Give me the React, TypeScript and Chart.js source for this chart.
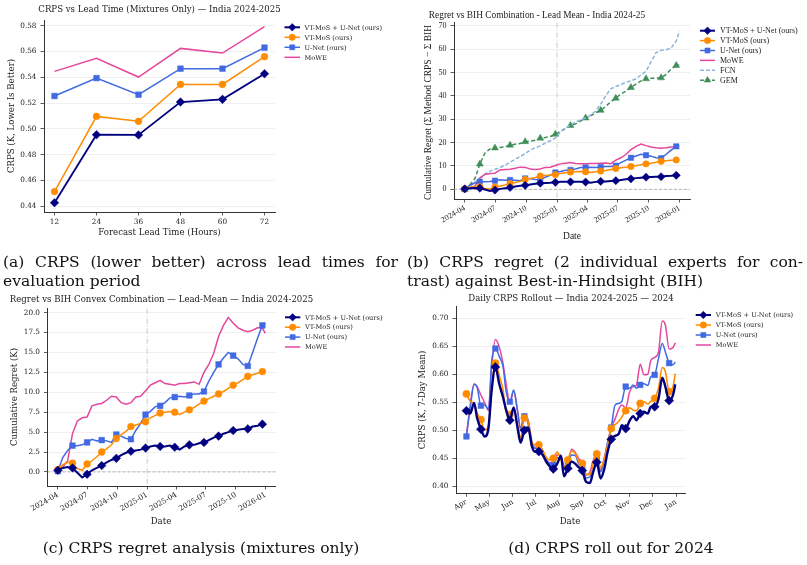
import React, { useEffect, useRef } from 'react';
import { Chart, registerables } from 'chart.js';

Chart.register(...registerables);

const W = 807;
const H = 565;

// ---------- (a) CRPS vs lead time ----------
const LEAD_HOURS = [12, 24, 36, 48, 60, 72];
const LEAD_VTMOS_UNET = [0.4428, 0.4955, 0.4953, 0.5208, 0.5229, 0.5428];
const LEAD_VTMOS = [0.4514, 0.5097, 0.5059, 0.5345, 0.5345, 0.556];
const LEAD_UNET = [0.5255, 0.5394, 0.5265, 0.5467, 0.5467, 0.563];
const LEAD_MOWE = [0.5446, 0.5547, 0.5402, 0.5624, 0.5588, 0.5792];
const LEAD_Y_TICKS = [0.44, 0.46, 0.48, 0.5, 0.52, 0.54, 0.56, 0.58];

// ---------- (b)/(c) cumulative regret, days since 2024-04-01 ----------
const REGRET_DAYS = [0, 15, 30, 45, 60, 75, 90, 105, 120, 135, 150, 165, 180, 195, 210, 225, 240, 255, 270, 285, 300, 315, 330, 345, 360, 375, 390, 405, 420, 435, 450, 465, 480, 495, 510, 525, 540, 555, 570, 585, 600, 615, 630, 639];
const REG_VTMOS_UNET = [0.2, 0.5, 0.6, 0.5, -0.1, -0.7, -0.3, 0.2, 0.5, 0.8, 1.2, 1.5, 1.7, 2.1, 2.4, 2.6, 2.7, 2.8, 3.0, 3.2, 3.3, 3.2, 3.2, 3.3, 3.1, 2.8, 3.2, 3.4, 3.4, 3.6, 3.7, 4.0, 4.3, 4.5, 4.8, 5.0, 5.2, 5.3, 5.4, 5.4, 5.7, 5.8, 6.0, 5.9];
const REG_VTMOS = [0.3, 0.9, 1.2, 1.1, 0.4, 0.2, 1.0, 1.4, 1.9, 2.5, 2.9, 3.4, 4.2, 4.7, 5.1, 5.7, 5.9, 6.1, 6.3, 6.8, 7.1, 7.4, 7.5, 7.6, 7.5, 7.2, 7.5, 7.8, 8.1, 8.5, 8.9, 9.2, 9.5, 9.8, 10.1, 10.5, 10.9, 11.2, 11.6, 12.0, 12.2, 12.4, 12.6, 12.8];
const REG_UNET = [0.1, 1.8, 2.7, 3.3, 3.3, 3.4, 3.7, 4.1, 3.9, 4.0, 3.9, 3.7, 4.7, 4.5, 4.2, 4.1, 5.2, 6.1, 7.2, 7.6, 8.2, 8.3, 8.7, 9.3, 9.4, 9.5, 9.4, 9.6, 9.8, 9.8, 10.1, 11.4, 12.5, 13.5, 14.3, 15.0, 14.6, 14.2, 13.5, 13.3, 15.0, 16.8, 18.4, 18.7];
const REG_MOWE = [0.2, 0.6, 1.4, 4.8, 6.4, 6.8, 6.9, 8.3, 8.5, 8.6, 9.0, 9.5, 9.4, 8.7, 8.5, 8.7, 9.4, 9.5, 10.2, 10.9, 11.2, 11.5, 11.1, 11.0, 10.9, 11.1, 11.1, 11.2, 11.3, 11.0, 12.5, 13.5, 14.9, 17.0, 18.4, 19.4, 18.7, 18.1, 17.8, 17.6, 17.8, 18.1, 18.1, 17.4];
const REG_FCN = [0.0, 1.2, 3.0, 4.8, 6.5, 7.8, 8.6, 9.3, 10.4, 11.6, 12.8, 14.0, 15.3, 16.8, 17.8, 18.6, 19.8, 20.8, 22.0, 24.5, 26.2, 27.5, 28.8, 29.7, 30.5, 31.8, 33.5, 36.5, 40.0, 43.0, 44.0, 44.8, 45.8, 46.4, 47.3, 49.0, 50.5, 54.5, 58.5, 59.5, 59.7, 60.5, 63.5, 67.5];
const REG_GEM = [0.0, 2.0, 4.5, 10.8, 15.5, 17.3, 17.7, 17.9, 18.2, 18.9, 19.3, 19.6, 20.4, 20.6, 21.0, 21.9, 22.2, 22.6, 23.6, 24.8, 26.0, 27.3, 28.0, 29.2, 30.5, 31.5, 32.8, 33.8, 35.5, 37.5, 39.0, 40.8, 42.0, 43.6, 45.0, 46.4, 47.3, 47.5, 47.6, 47.7, 49.2, 51.5, 53.0, 53.2];
const REGRET_TICK_DAYS = [0, 91, 183, 275, 365, 456, 548, 640];
const REGRET_TICK_LABELS = ['2024-04', '2024-07', '2024-10', '2025-01', '2025-04', '2025-07', '2025-10', '2026-01'];
const REGRET_B_Y_TICKS = [0, 10, 20, 30, 40, 50, 60, 70];
const REGRET_C_Y_TICKS = [0, 2.5, 5, 7.5, 10, 12.5, 15, 17.5, 20];
const SPLIT_DAY = 275;

// ---------- (d) daily CRPS rollout, days since 2024-04-01 ----------
const ROLL_DAYS = [0, 5, 10, 14, 19, 24, 29, 33, 38, 43, 48, 52, 57, 62, 67, 71, 76, 81, 86, 90, 95, 100, 105, 109, 114, 119, 124, 128, 133, 138, 143, 147, 152, 157, 162, 166, 171, 176, 181, 185, 190, 195, 200, 204, 209, 214, 219, 223, 228, 233, 238, 242, 247, 252, 257, 261, 266, 271, 274];
const ROLL_VTMOS_UNET = [0.535, 0.530, 0.549, 0.522, 0.502, 0.489, 0.505, 0.570, 0.613, 0.583, 0.559, 0.537, 0.518, 0.541, 0.505, 0.478, 0.500, 0.505, 0.471, 0.462, 0.462, 0.456, 0.443, 0.436, 0.431, 0.440, 0.454, 0.418, 0.432, 0.444, 0.440, 0.434, 0.428, 0.408, 0.406, 0.424, 0.443, 0.414, 0.432, 0.460, 0.484, 0.490, 0.494, 0.509, 0.503, 0.517, 0.525, 0.518, 0.530, 0.533, 0.530, 0.542, 0.542, 0.556, 0.594, 0.578, 0.553, 0.563, 0.582];
const ROLL_VTMOS = [0.565, 0.552, 0.548, 0.531, 0.519, 0.500, 0.510, 0.575, 0.620, 0.598, 0.572, 0.532, 0.528, 0.540, 0.510, 0.486, 0.522, 0.516, 0.478, 0.474, 0.474, 0.464, 0.451, 0.447, 0.450, 0.461, 0.448, 0.434, 0.447, 0.463, 0.458, 0.446, 0.441, 0.422, 0.421, 0.440, 0.458, 0.433, 0.450, 0.472, 0.503, 0.510, 0.516, 0.524, 0.535, 0.540, 0.536, 0.535, 0.548, 0.551, 0.547, 0.552, 0.557, 0.575, 0.612, 0.605, 0.569, 0.578, 0.601];
const ROLL_UNET = [0.489, 0.540, 0.582, 0.577, 0.544, 0.545, 0.538, 0.622, 0.646, 0.632, 0.614, 0.570, 0.551, 0.572, 0.535, 0.504, 0.525, 0.518, 0.480, 0.468, 0.468, 0.461, 0.448, 0.440, 0.438, 0.451, 0.452, 0.436, 0.440, 0.456, 0.455, 0.441, 0.433, 0.415, 0.417, 0.440, 0.452, 0.426, 0.448, 0.478, 0.505, 0.545, 0.548, 0.552, 0.578, 0.575, 0.581, 0.575, 0.581, 0.583, 0.580, 0.596, 0.599, 0.628, 0.655, 0.640, 0.620, 0.617, 0.622];
const ROLL_MOWE = [0.492, 0.545, 0.583, 0.578, 0.563, 0.549, 0.535, 0.611, 0.662, 0.649, 0.619, 0.583, 0.549, 0.570, 0.535, 0.501, 0.530, 0.510, 0.470, 0.468, 0.471, 0.464, 0.446, 0.442, 0.441, 0.456, 0.456, 0.432, 0.440, 0.466, 0.460, 0.450, 0.442, 0.420, 0.425, 0.445, 0.455, 0.428, 0.452, 0.475, 0.505, 0.520, 0.538, 0.545, 0.540, 0.568, 0.578, 0.580, 0.618, 0.599, 0.600, 0.625, 0.630, 0.640, 0.695, 0.688, 0.645, 0.648, 0.656];
const ROLL_TICK_DAYS = [0, 30, 61, 91, 122, 153, 183, 214, 244, 275];
const ROLL_TICK_LABELS = ['Apr', 'May', 'Jun', 'Jul', 'Aug', 'Sep', 'Oct', 'Nov', 'Dec', 'Jan'];
const ROLL_Y_TICKS = [0.4, 0.45, 0.5, 0.55, 0.6, 0.65, 0.7];

// ---------- styles ----------
const NAVY = '#000080';
const ORANGE = '#ff8c00';
const BLUE = '#4169e1';
const PINK = '#e4479c';
const FCN_C = '#8cb6de';
const GEM_C = '#3e8e58';
const DEJAVU = "'DejaVu Serif', serif";
const TIMES = "'Liberation Serif', 'Times New Roman', serif";
const TXT = '#222222';
const AX = '#333333';

type LegendItem = { label: string; color: string; marker?: string; dash?: number[]; lw: number; r?: number };

function drawMarker(ctx: CanvasRenderingContext2D, style: string, x: number, y: number, r: number, color: string) {
  ctx.save();
  ctx.fillStyle = color;
  ctx.strokeStyle = color;
  ctx.lineWidth = 0.5;
  ctx.setLineDash([]);
  ctx.beginPath();
  if (style === 'circle') ctx.arc(x, y, r, 0, Math.PI * 2);
  else if (style === 'rect') {
    const s = r * Math.SQRT1_2;
    ctx.rect(x - s, y - s, 2 * s, 2 * s);
  } else if (style === 'rectRot') {
    ctx.moveTo(x, y - r);
    ctx.lineTo(x + r, y);
    ctx.lineTo(x, y + r);
    ctx.lineTo(x - r, y);
    ctx.closePath();
  } else if (style === 'triangle') {
    ctx.moveTo(x, y - r);
    ctx.lineTo(x + r * 0.866, y + r * 0.5);
    ctx.lineTo(x - r * 0.866, y + r * 0.5);
    ctx.closePath();
  }
  ctx.fill();
  ctx.stroke();
  ctx.restore();
}

type Deco = {
  font: string;
  title: { text: string; x: number; y: number; size: number };
  xlabel: { text: string; x: number; y: number; size: number };
  ylabel: { text: string; x: number; y: number; size: number };
  legend: { x0: number; len: number; tx: number; y0: number; dy: number; size: number; items: LegendItem[] };
  vline?: number;
  hline?: number;
};

function makeDeco(d: Deco) {
  return {
    id: 'deco',
    beforeDatasetsDraw(chart: any) {
      const { ctx, chartArea: ca, scales } = chart;
      ctx.save();
      if (d.vline !== undefined) {
        const x = scales.x.getPixelForValue(d.vline);
        ctx.strokeStyle = '#c4c4c4';
        ctx.lineWidth = 0.9;
        ctx.setLineDash([5, 2, 1, 2]);
        ctx.beginPath();
        ctx.moveTo(x, ca.top);
        ctx.lineTo(x, ca.bottom);
        ctx.stroke();
      }
      if (d.hline !== undefined) {
        const y = scales.y.getPixelForValue(d.hline);
        ctx.strokeStyle = '#a8a8a8';
        ctx.lineWidth = 0.8;
        ctx.setLineDash([3, 2]);
        ctx.beginPath();
        ctx.moveTo(ca.left, y);
        ctx.lineTo(ca.right, y);
        ctx.stroke();
      }
      ctx.restore();
    },
    afterDraw(chart: any) {
      const ctx: CanvasRenderingContext2D = chart.ctx;
      ctx.save();
      ctx.fillStyle = TXT;
      ctx.textAlign = 'center';
      ctx.textBaseline = 'middle';
      ctx.font = `${d.title.size}px ${d.font}`;
      ctx.fillText(d.title.text, d.title.x, d.title.y);
      ctx.font = `${d.xlabel.size}px ${d.font}`;
      ctx.fillText(d.xlabel.text, d.xlabel.x, d.xlabel.y);
      ctx.save();
      ctx.translate(d.ylabel.x, d.ylabel.y);
      ctx.rotate(-Math.PI / 2);
      ctx.font = `${d.ylabel.size}px ${d.font}`;
      ctx.fillText(d.ylabel.text, 0, 0);
      ctx.restore();
      const L = d.legend;
      L.items.forEach((it, i) => {
        const y = L.y0 + i * L.dy;
        ctx.save();
        ctx.strokeStyle = it.color;
        ctx.lineWidth = it.lw;
        ctx.setLineDash(it.dash || []);
        ctx.beginPath();
        ctx.moveTo(L.x0, y);
        ctx.lineTo(L.x0 + L.len, y);
        ctx.stroke();
        ctx.restore();
        if (it.marker) drawMarker(ctx, it.marker, L.x0 + L.len / 2, y, it.r || 3.5, it.color);
        ctx.fillStyle = TXT;
        ctx.textAlign = 'left';
        ctx.font = `${L.size}px ${d.font}`;
        ctx.fillText(it.label, L.tx, y + 0.5);
      });
      ctx.restore();
    },
  };
}

type AxisSpec = {
  min: number;
  max: number;
  ticks: number[];
  label: (v: number) => string;
  size: number;
  font: string;
  fontSize: number;
  rotation?: number;
  pad: number;
};

function xAxis(a: AxisSpec) {
  return {
    type: 'linear',
    position: 'bottom',
    min: a.min,
    max: a.max,
    afterBuildTicks: (s: any) => {
      s.ticks = a.ticks.map((v) => ({ value: v }));
    },
    afterFit: (s: any) => {
      s.height = a.size;
    },
    ticks: {
      autoSkip: false,
      minRotation: a.rotation || 0,
      maxRotation: a.rotation || 0,
      padding: a.pad,
      color: TXT,
      font: { family: a.font, size: a.fontSize },
      callback: (v: number) => a.label(v),
    },
    grid: { drawOnChartArea: false, drawTicks: true, tickLength: 3.5, tickColor: AX, tickWidth: 0.8, color: AX, lineWidth: 0.8 },
    border: { display: true, color: AX, width: 1 },
  };
}

function yAxis(a: AxisSpec) {
  return {
    type: 'linear',
    position: 'left',
    min: a.min,
    max: a.max,
    afterBuildTicks: (s: any) => {
      s.ticks = a.ticks.map((v) => ({ value: v }));
    },
    afterFit: (s: any) => {
      s.width = a.size;
    },
    ticks: {
      padding: a.pad,
      color: TXT,
      font: { family: a.font, size: a.fontSize },
      callback: (v: number) => a.label(v),
    },
    grid: { drawOnChartArea: true, color: '#ebebeb', lineWidth: 0.8, drawTicks: true, tickLength: 3.5, tickColor: AX, tickWidth: 0.8 },
    border: { display: true, color: AX, width: 1 },
  };
}

function pts(xs: number[], ys: number[]) {
  return xs.map((x, i) => ({ x, y: ys[i] }));
}

function series(label: string, xs: number[], ys: number[], color: string, opt: any) {
  return {
    label,
    data: pts(xs, ys),
    borderColor: color,
    backgroundColor: color,
    pointBackgroundColor: color,
    pointBorderColor: color,
    pointBorderWidth: 0.5,
    fill: false,
    ...opt,
  };
}

function build(canvas: HTMLCanvasElement, box: { top: number; right: number }, x: any, y: any, datasets: any[], deco: Deco, smooth: boolean) {
  return new Chart(canvas, {
    type: 'line',
    data: { datasets },
    options: {
      responsive: false,
      animation: false,
      devicePixelRatio: 1,
      events: [],
      layout: { padding: { left: 0, top: box.top, right: W - box.right, bottom: 0 } },
      elements: { line: { tension: 0, cubicInterpolationMode: smooth ? 'monotone' : 'default' } },
      plugins: { legend: { display: false }, tooltip: { enabled: false }, title: { display: false } },
      scales: { x, y },
    } as any,
    plugins: [makeDeco(deco)],
  } as any);
}

const LEG4 = (r: number): LegendItem[] => [
  { label: 'VT-MoS + U-Net (ours)', color: NAVY, marker: 'rectRot', lw: 2, r: r + 0.6 },
  { label: 'VT-MoS (ours)', color: ORANGE, marker: 'circle', lw: 1.5, r },
  { label: 'U-Net (ours)', color: BLUE, marker: 'rect', lw: 1.5, r: r + 0.4 },
  { label: 'MoWE', color: PINK, lw: 1.5 },
];

function chartA(cv: HTMLCanvasElement) {
  const x = xAxis({ min: 9, max: 75, ticks: LEAD_HOURS, label: (v) => String(v), size: H - 212, font: DEJAVU, fontSize: 7.3, pad: 2 });
  const y = yAxis({ min: 0.4356, max: 0.5844, ticks: LEAD_Y_TICKS, label: (v) => v.toFixed(2), size: 44, font: DEJAVU, fontSize: 7.3, pad: 4 });
  const ds = [
    series('VT-MoS + U-Net (ours)', LEAD_HOURS, LEAD_VTMOS_UNET, NAVY, { borderWidth: 1.8, pointStyle: 'rectRot', pointRadius: 4.3 }),
    series('VT-MoS (ours)', LEAD_HOURS, LEAD_VTMOS, ORANGE, { borderWidth: 1.5, pointStyle: 'circle', pointRadius: 3.4 }),
    series('U-Net (ours)', LEAD_HOURS, LEAD_UNET, BLUE, { borderWidth: 1.5, pointStyle: 'rect', pointRadius: 4 }),
    series('MoWE', LEAD_HOURS, LEAD_MOWE, PINK, { borderWidth: 1.5, pointRadius: 0 }),
  ];
  return build(cv, { top: 20, right: 275 }, x, y, ds, {
    font: DEJAVU,
    title: { text: 'CRPS vs Lead Time (Mixtures Only) \u2014 India 2024-2025', x: 159.5, y: 9.5, size: 8.6 },
    xlabel: { text: 'Forecast Lead Time (Hours)', x: 159.5, y: 233, size: 8.6 },
    ylabel: { text: 'CRPS (K, Lower Is Better)', x: 12, y: 116, size: 8.6 },
    legend: { x0: 284.5, len: 15.5, tx: 304.5, y0: 27.3, dy: 10, size: 6.6, items: LEG4(3.2) },
  }, false);
}

const every3 = (r: number) => (c: any) => (c.dataIndex % 3 === 0 ? r : 0);

function regretSets(scale: number) {
  return [
    series('VT-MoS + U-Net (ours)', REGRET_DAYS, REG_VTMOS_UNET, NAVY, { borderWidth: 2, pointStyle: 'rectRot', pointRadius: every3(4.3 * scale) }),
    series('VT-MoS (ours)', REGRET_DAYS, REG_VTMOS, ORANGE, { borderWidth: 1.5, pointStyle: 'circle', pointRadius: every3(3.4 * scale) }),
    series('U-Net (ours)', REGRET_DAYS, REG_UNET, BLUE, { borderWidth: 1.5, pointStyle: 'rect', pointRadius: every3(4 * scale) }),
    series('MoWE', REGRET_DAYS, REG_MOWE, PINK, { borderWidth: 1.5, pointRadius: 0 }),
  ];
}

const dateLabel = (v: number) => REGRET_TICK_LABELS[REGRET_TICK_DAYS.indexOf(v)] || '';

function chartB(cv: HTMLCanvasElement) {
  const x = xAxis({ min: -32, max: 671, ticks: REGRET_TICK_DAYS, label: dateLabel, size: H - 199, font: TIMES, fontSize: 8, rotation: 30, pad: 1 });
  const y = yAxis({ min: -4.13, max: 71.3, ticks: REGRET_B_Y_TICKS, label: (v) => String(v), size: 454, font: TIMES, fontSize: 8, pad: 4 });
  const ds = [
    ...regretSets(0.95),
    series('FCN', REGRET_DAYS, REG_FCN, FCN_C, { borderWidth: 1.5, borderDash: [4, 2], pointRadius: 0 }),
    series('GEM', REGRET_DAYS, REG_GEM, GEM_C, { borderWidth: 1.5, borderDash: [4, 2.5], pointStyle: 'triangle', pointRadius: every3(4) }),
  ];
  return build(cv, { top: 22.7, right: 690 }, x, y, ds, {
    font: TIMES,
    title: { text: 'Regret vs BIH Combination - Lead Mean - India 2024-25', x: 537, y: 15.3, size: 9.4 },
    xlabel: { text: 'Date', x: 572, y: 236, size: 9.5 },
    ylabel: { text: 'Cumulative Regret (\u03a3 Method CRPS \u2212 \u03a3 BIH', x: 428.5, y: 112.5, size: 9.5 },
    legend: {
      x0: 700, len: 15, tx: 720, y0: 30.7, dy: 9.9, size: 8,
      items: [
        ...LEG4(3.2),
        { label: 'FCN', color: FCN_C, dash: [4, 2], lw: 1.5 },
        { label: 'GEM', color: GEM_C, dash: [4, 2], lw: 1.5, marker: 'triangle', r: 3.8 },
      ],
    },
    vline: SPLIT_DAY,
    hline: 0,
  }, false);
}

function chartC(cv: HTMLCanvasElement) {
  const x = xAxis({ min: -32, max: 671, ticks: REGRET_TICK_DAYS, label: dateLabel, size: H - 486, font: DEJAVU, fontSize: 7.3, rotation: 30, pad: 1 });
  const y = yAxis({ min: -1.77, max: 20.5, ticks: REGRET_C_Y_TICKS, label: (v) => v.toFixed(1), size: 47.5, font: DEJAVU, fontSize: 7.3, pad: 4 });
  return build(cv, { top: 308.7, right: 275.7 }, x, y, regretSets(1), {
    font: DEJAVU,
    title: { text: 'Regret vs BIH Convex Combination \u2014 Lead-Mean \u2014 India 2024-2025', x: 161.5, y: 300, size: 8.6 },
    xlabel: { text: 'Date', x: 161, y: 522, size: 8.6 },
    ylabel: { text: 'Cumulative Regret (K)', x: 14.5, y: 397, size: 8.6 },
    legend: { x0: 285, len: 15.3, tx: 305, y0: 317.3, dy: 9.9, size: 6.6, items: LEG4(3.2) },
    vline: SPLIT_DAY,
    hline: 0,
  }, false);
}

function chartD(cv: HTMLCanvasElement) {
  const mk = (r: number) => (c: any) => (ROLL_DAYS[c.dataIndex] % 19 === 0 ? r : 0);
  const x = xAxis({ min: -13.7, max: 287.7, ticks: ROLL_TICK_DAYS, label: (v) => ROLL_TICK_LABELS[ROLL_TICK_DAYS.indexOf(v)] || '', size: H - 493.3, font: DEJAVU, fontSize: 7.3, rotation: 30, pad: 1 });
  const y = yAxis({ min: 0.3875, max: 0.7207, ticks: ROLL_Y_TICKS, label: (v) => v.toFixed(2), size: 456, font: DEJAVU, fontSize: 7.3, pad: 4 });
  const ds = [
    series('VT-MoS + U-Net (ours)', ROLL_DAYS, ROLL_VTMOS_UNET, NAVY, { borderWidth: 2.4, pointStyle: 'rectRot', pointRadius: mk(4.5) }),
    series('VT-MoS (ours)', ROLL_DAYS, ROLL_VTMOS, ORANGE, { borderWidth: 1.6, pointStyle: 'circle', pointRadius: mk(3.6) }),
    series('U-Net (ours)', ROLL_DAYS, ROLL_UNET, BLUE, { borderWidth: 1.5, pointStyle: 'rect', pointRadius: mk(4) }),
    series('MoWE', ROLL_DAYS, ROLL_MOWE, PINK, { borderWidth: 1.5, pointRadius: 0 }),
  ];
  return build(cv, { top: 306.7, right: 685.7 }, x, y, ds, {
    font: DEJAVU,
    title: { text: 'Daily CRPS Rollout \u2014 India 2024-2025 \u2014 2024', x: 571, y: 298.3, size: 8.6 },
    xlabel: { text: 'Date', x: 570, y: 522, size: 8.6 },
    ylabel: { text: 'CRPS (K, 7-Day Mean)', x: 423, y: 400, size: 8.6 },
    legend: { x0: 695.7, len: 15.3, tx: 715.7, y0: 315, dy: 10, size: 6.6, items: LEG4(3.2) },
  }, true);
}

const capBase: React.CSSProperties = {
  position: 'absolute',
  fontFamily: "'DejaVu Serif', serif",
  fontSize: 15.5,
  lineHeight: '18px',
  color: '#111',
  whiteSpace: 'nowrap',
  margin: 0,
};
const capJust = (left: number, top: number, width: number): React.CSSProperties => ({
  ...capBase,
  left,
  top,
  width,
  whiteSpace: 'normal',
  textAlign: 'justify',
  textAlignLast: 'justify' as any,
});

export default function App() {
  const r0 = useRef<HTMLCanvasElement>(null);
  const r1 = useRef<HTMLCanvasElement>(null);
  const r2 = useRef<HTMLCanvasElement>(null);
  const r3 = useRef<HTMLCanvasElement>(null);

  useEffect(() => {
    const charts = [chartA(r0.current!), chartB(r1.current!), chartC(r2.current!), chartD(r3.current!)];
    return () => charts.forEach((c) => c.destroy());
  }, []);

  const cvStyle: React.CSSProperties = { position: 'absolute', left: 0, top: 0, width: W, height: H };

  return (
    <div style={{ position: 'absolute', left: 0, top: 0, width: W, height: H, background: '#fff', overflow: 'hidden' }}>
      <canvas ref={r0} width={W} height={H} style={cvStyle} />
      <canvas ref={r1} width={W} height={H} style={cvStyle} />
      <canvas ref={r2} width={W} height={H} style={cvStyle} />
      <canvas ref={r3} width={W} height={H} style={cvStyle} />
      <div style={capJust(3, 253, 395)}>(a) CRPS (lower better) across lead times for</div>
      <div style={{ ...capBase, left: 3, top: 272 }}>evaluation period</div>
      <div style={capJust(407, 253, 396)}>(b) CRPS regret (2 individual experts for con-</div>
      <div style={{ ...capBase, left: 407, top: 272 }}>trast) against Best-in-Hindsight (BIH)</div>
      <div style={{ ...capBase, left: 1, top: 539, width: 400, textAlign: 'center' }}>(c) CRPS regret analysis (mixtures only)</div>
      <div style={{ ...capBase, left: 411, top: 539, width: 400, textAlign: 'center' }}>(d) CRPS roll out for 2024</div>
    </div>
  );
}
